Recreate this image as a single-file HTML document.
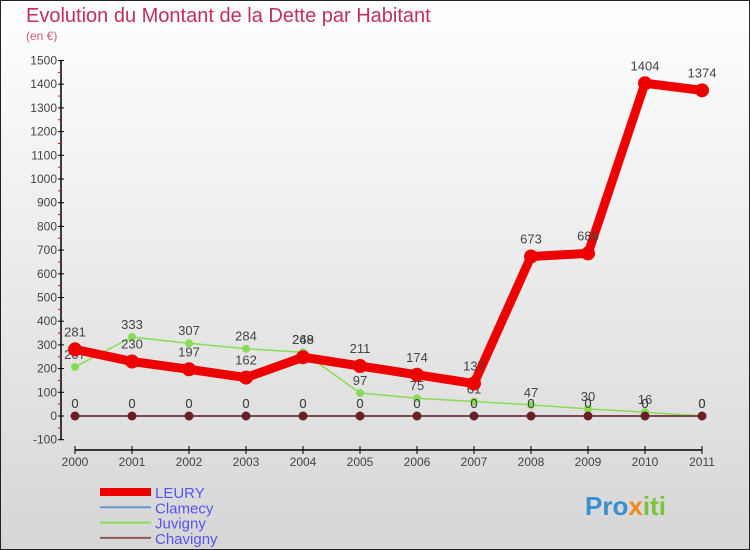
<!DOCTYPE html>
<html><head><meta charset="utf-8"><style>
body{margin:0}
#c{width:750px;height:550px;position:relative;overflow:hidden;box-sizing:border-box;border:1px solid #222;background:linear-gradient(#fff,#d6d6d6);font-family:"Liberation Sans",sans-serif}
</style></head><body>
<div id="c">
<svg width="750" height="550" style="position:absolute;left:-1px;top:-1px" id="svg">
<text x="26" y="22" font-size="20" fill="#c0305a">Evolution du Montant de la Dette par Habitant</text>
<text x="26" y="40" font-size="12" fill="#d05a7a">(en €)</text>
<g id="axes"></g><g id="series"></g><g id="legend"></g>
<text x="585" y="515" font-size="26" font-weight="bold" fill="#3a8fd0">Pro<tspan fill="#f08a1a">x</tspan><tspan fill="#7cc23a">iti</tspan></text>
</svg>
</div>
<script>
const years=[2000,2001,2002,2003,2004,2005,2006,2007,2008,2009,2010,2011];
const leury=[281,230,197,162,248,211,174,137,673,686,1404,1374];
const clamecy=[0,0,0,0,0,0,0,0,0,0,0,0];
const juvigny=[207,333,307,284,269,97,75,61,47,30,16,0];
const chavigny=[0,0,0,0,0,0,0,0,0,0,0,0];
const yTicks=[-100,0,100,200,300,400,500,600,700,800,900,1000,1100,1200,1300,1400,1500];
const NS="http://www.w3.org/2000/svg";
const xs=i=>75+i*57;
const ys=v=>416-v*0.237;
function mk(tag,attrs,parent){const e=document.createElementNS(NS,tag);for(const k in attrs)e.setAttribute(k,attrs[k]);parent.appendChild(e);return e;}
const ax=document.getElementById('axes');
let l=mk('line',{x1:61,y1:ys(1500),x2:61,y2:ys(-100),stroke:'#000','stroke-width':1.5},ax);


yTicks.forEach(t=>{
 let tk=mk('line',{x1:58,x2:64,y1:ys(t),y2:ys(t),stroke:'#000'},ax);
 
 
 if(t<1500){let m=mk('line',{x1:58,x2:61,y1:ys(t+50),y2:ys(t+50),stroke:'#e00'},ax);
 
 }
 let tx=mk('text',{x:57,y:ys(t)+4,'text-anchor':'end','font-size':12,fill:'#444'},ax);tx.textContent=t;
 
 
});
let xa=mk('line',{x1:75,y1:450,x2:xs(11),y2:450,stroke:'#000','stroke-width':1.5},ax);


years.forEach((y,i)=>{
 let tk=mk('line',{x1:xs(i),x2:xs(i),y1:446,y2:454,stroke:'#000'},ax);
 
 
 let tx=mk('text',{x:xs(i),y:466,'text-anchor':'middle','font-size':12,fill:'#444'},ax);tx.textContent=y;
 
 
});
const sg=document.getElementById('series');
function series(data,color,w,r,name,labelDy){
 const pts=data.map((v,i)=>xs(i)+','+ys(v)).join(' ');
 let p=mk('polyline',{points:pts,fill:'none',stroke:color,'stroke-width':w,'stroke-linejoin':'round'},sg);
 
 
 data.forEach((v,i)=>{
  let c=mk('circle',{cx:xs(i),cy:ys(v),r:r,fill:color},sg);
  
  
  let t=mk('text',{x:xs(i),y:ys(v)+labelDy,'text-anchor':'middle','font-size':13,fill:'#444'},sg);t.textContent=v;
  
  
 });
}
series(clamecy,'#6699cc',1.5,3,'clamecy',-8);
series(juvigny,'#88dd55',1.5,4,'juvigny',-8);
series(leury,'#ee0000',9,7,'leury',-13);
series(chavigny,'#6a2020',1.5,4.5,'chavigny',-8);
const lg=document.getElementById('legend');
[['LEURY','#ee0000',8],['Clamecy','#6699cc',2],['Juvigny','#88dd55',2],['Chavigny','#8a5a5a',2]].forEach((s,i)=>{
 const y=492+i*15.3;
 let ln=mk('line',{x1:100,x2:151,y1:y,y2:y,stroke:s[1],'stroke-width':s[2]},lg);
 
 
 let t=mk('text',{x:155,y:y+6,'font-size':15,fill:'#5555ee'},lg);t.textContent=s[0];
 
 
});
</script>
</body></html>
